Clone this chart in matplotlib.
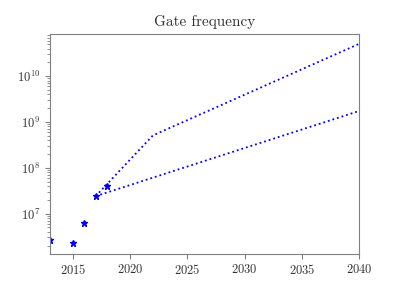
import matplotlib
matplotlib.use("Agg")
import matplotlib.pyplot as plt

plt.rcParams['font.family'] = 'serif'
plt.rcParams['font.serif'] = ['cmr10', 'DejaVu Serif']
plt.rcParams['mathtext.fontset'] = 'cm'
plt.rcParams['axes.formatter.use_mathtext'] = True

# measured gate frequency
years = [2013, 2015, 2016, 2017, 2018]
freq = [2.66e6, 2.33e6, 6.3e6, 2.4e7, 4.1e7]

# projections
proj_fast_years = [2017, 2022, 2040]
proj_fast = [2.4e7, 5.1e8, 5.1e10]
proj_slow_years = [2017, 2040]
proj_slow = [2.4e7, 1.74e9]

grey = '#808080'

fig, ax = plt.subplots(figsize=(3.99, 2.85), dpi=100)
ax.plot(years, freq, '*', color='blue', markersize=5)
ax.plot(proj_fast_years, proj_fast, ':', color='blue', linewidth=1.3)
ax.plot(proj_slow_years, proj_slow, ':', color='blue', linewidth=1.3)
ax.set_yscale('log')
ax.set_xlim(2013, 2040)
ax.set_ylim(1.33e6, 8.3e10)
ax.set_xticks([2015, 2020, 2025, 2030, 2035, 2040])
ax.set_title('Gate frequency', fontsize=11, color='#333333')
for s in ax.spines.values():
    s.set_color(grey)
ax.tick_params(which='both', colors=grey, labelcolor='#333333', labelsize=9)
plt.savefig('out.png')
